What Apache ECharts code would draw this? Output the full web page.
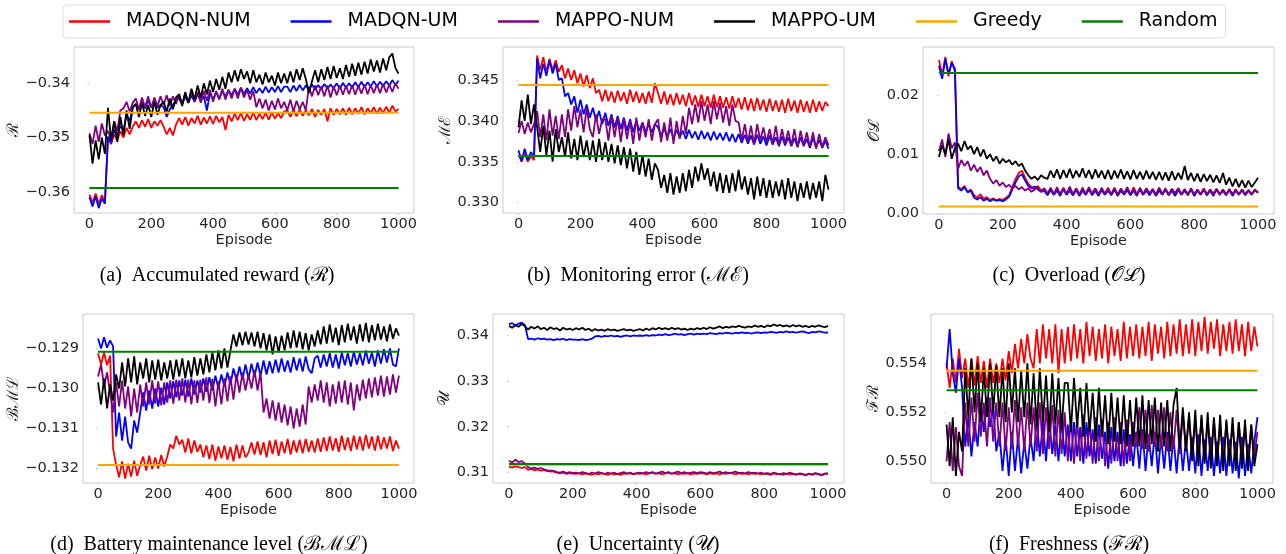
<!DOCTYPE html>
<html><head><meta charset="utf-8">
<script src="https://cdn.jsdelivr.net/npm/echarts@6/dist/echarts.min.js"></script>
<style>html,body{margin:0;padding:0;background:#fff}#c{width:1286px;height:554px}</style>
</head><body><div id="c"></div>
<script>
// ---------- data ----------
const seriesNames = ['MADQN-NUM','MADQN-UM','MAPPO-NUM','MAPPO-UM','Greedy','Random'];
const seriesColors = ['#ff0000','#0000ff','#800080','#000000','#ffa500','#008000'];
const episodeTicks = [0,200,400,600,800,1000];
const lastEpisode = 1000;

// (a) accumulated reward, read every 10 episodes
const aMadqnNum = [-.3605,-.3620,-.3603,-.3622,-.3606,-.3618,
-.3500,-.3512,-.3494,-.3506,-.3488,-.3500,-.3482,-.3494,-.3480,
-.3470,-.3482,-.3468,-.3480,-.3466,-.3482,-.3470,-.3478,-.3468,
-.3480,-.3494,-.3482,-.3496,-.3476,
-.3464,-.3476,-.3462,-.3478,-.3464,-.3474,-.3460,-.3476,-.3463,-.3474,-.3461,-.3475,-.3460,-.3472,-.3462,
-.3486,
-.3458,-.3470,-.3456,-.3468,-.3455,-.3469,-.3457,-.3467,-.3454,-.3468,-.3456,-.3466,-.3454,-.3467,-.3453,-.3465,-.3455,-.3464,-.3452,
-.3450,-.3462,-.3449,-.3461,-.3448,-.3460,-.3450,-.3459,-.3447,-.3462,-.3449,-.3458,-.3447,-.3470,-.3446,-.3458,-.3447,-.3457,-.3446,-.3458,-.3445,-.3457,-.3446,-.3456,-.3444,-.3457,-.3446,-.3455,-.3444,-.3456,-.3445,-.3455,-.3443,-.3454,-.3441,-.3452,-.3447];
const aMadqnUm = [-.3610,-.3627,-.3608,-.3630,-.3612,-.3622,
-.3498,-.3510,-.3486,-.3496,-.3478,-.3488,-.3458,-.3470,-.3444,
-.3438,-.3448,-.3434,-.3446,-.3432,-.3444,-.3434,-.3445,-.3440,
-.3444,-.3462,-.3448,-.3440,-.3430,
-.3428,-.3438,-.3424,-.3436,-.3422,-.3434,-.3420,-.3432,-.3424,-.3450,-.3418,-.3430,-.3416,-.3428,-.3414,
-.3424,
-.3412,-.3422,-.3410,-.3421,-.3408,-.3420,-.3409,-.3419,-.3407,-.3418,-.3409,-.3418,-.3406,-.3417,-.3407,-.3416,-.3405,-.3416,-.3406,
-.3406,-.3416,-.3404,-.3414,-.3403,-.3413,-.3404,-.3412,-.3402,-.3412,-.3403,-.3411,-.3401,-.3410,-.3402,-.3409,-.3400,-.3410,-.3399,-.3408,-.3400,-.3408,-.3398,-.3407,-.3397,-.3407,-.3398,-.3406,-.3396,-.3406,-.3397,-.3405,-.3396,-.3404,-.3394,-.3403,-.3395];
const aMappoNum = [-.3492,-.3512,-.3478,-.3508,-.3474,-.3496,
-.3488,-.3505,-.3470,-.3488,-.3450,-.3446,-.3434,-.3452,-.3436,
-.3428,-.3448,-.3426,-.3444,-.3424,-.3445,-.3426,-.3442,-.3424,
-.3440,-.3422,-.3442,-.3424,-.3438,
-.3420,-.3438,-.3418,-.3436,-.3414,-.3434,-.3416,-.3436,-.3414,-.3432,-.3412,-.3434,-.3414,-.3430,-.3410,
-.3430,
-.3412,-.3428,-.3410,-.3428,-.3408,-.3426,-.3412,-.3430,-.3414,-.3444,-.3428,-.3446,-.3430,-.3450,-.3432,-.3448,-.3428,-.3446,-.3434,
-.3450,-.3430,-.3452,-.3432,-.3448,-.3434,-.3450,-.3406,-.3424,-.3404,-.3422,-.3406,-.3424,-.3404,-.3426,-.3406,-.3422,-.3404,-.3421,-.3405,-.3420,-.3403,-.3421,-.3404,-.3419,-.3402,-.3420,-.3403,-.3418,-.3402,-.3418,-.3401,-.3417,-.3402,-.3416,-.3400,-.3410];
const aMappoUm = [-.3495,-.3548,-.3505,-.3540,-.3500,-.3530,
-.3445,-.3505,-.3470,-.3508,-.3462,-.3496,-.3450,-.3484,-.3445,
-.3438,-.3462,-.3436,-.3460,-.3440,-.3462,-.3434,-.3458,-.3440,
-.3434,-.3452,-.3428,-.3448,-.3426,
-.3420,-.3442,-.3416,-.3436,-.3410,-.3430,-.3404,-.3426,-.3400,-.3420,-.3395,-.3416,-.3392,-.3412,-.3388,
-.3410,
-.3380,-.3398,-.3376,-.3396,-.3374,-.3392,-.3378,-.3400,-.3376,-.3398,-.3384,-.3402,-.3380,-.3398,-.3386,-.3404,-.3380,-.3400,-.3382,
-.3400,-.3378,-.3398,-.3374,-.3394,-.3372,-.3392,-.3418,-.3396,-.3376,-.3398,-.3374,-.3394,-.3370,-.3392,-.3368,-.3390,-.3372,-.3392,-.3366,-.3388,-.3364,-.3386,-.3362,-.3384,-.3360,-.3382,-.3356,-.3378,-.3358,-.3380,-.3354,-.3376,-.3352,-.3345,-.3372,-.3382];

// (b) monitoring error
const bMadqnNum = [.3358,.3351,.3360,.3350,.3357,.3352,
.3480,.3462,.3478,.3460,.3476,.3462,.3474,.3460,
.3468,.3452,.3464,.3450,.3462,.3446,.3458,.3442,.3456,.3440,
.3452,.3434,.3438,.3424,
.3438,.3424,.3436,.3422,.3437,.3424,.3435,.3421,.3438,.3423,.3436,.3422,.3434,.3421,.3436,.3422,
.3446,
.3434,.3421,.3436,.3420,.3433,.3419,.3434,.3420,.3432,.3418,.3434,.3419,.3431,.3417,.3432,.3418,.3430,.3416,.3432,.3417,.3430,.3416,.3429,.3415,.3430,.3416,
.3428,.3414,.3429,.3413,.3427,.3412,.3428,.3413,.3426,.3411,.3427,.3412,.3425,.3411,.3426,.3410,.3427,.3412,.3425,.3410,.3426,.3411,.3424,.3410,.3426,.3411,.3424,.3412,.3423,.3418];
const bMadqnUm = [.3364,.3350,.3366,.3352,.3362,.3356,
.3476,.3452,.3470,.3455,.3474,.3458,.3470,.3450,
.3452,.3430,.3434,.3420,.3430,.3410,.3426,.3408,.3420,.3404,
.3416,.3400,.3412,.3396,
.3410,.3394,.3408,.3392,.3406,.3390,.3404,.3388,.3402,.3386,.3400,.3388,.3398,.3386,.3396,.3386,
.3396,
.3392,.3382,.3391,.3380,.3390,.3379,.3389,.3380,.3388,.3378,.3389,.3379,.3387,.3377,.3388,.3378,.3386,.3376,.3387,.3377,.3385,.3376,.3386,.3375,.3384,.3374,
.3384,.3373,.3383,.3372,.3382,.3371,.3383,.3372,.3381,.3370,.3382,.3371,.3380,.3369,.3381,.3370,.3380,.3369,.3379,.3368,.3380,.3369,.3378,.3367,.3379,.3368,.3377,.3367,.3376,.3366];
const bMappoNum = [.3385,.3400,.3384,.3398,.3386,.3396,
.3412,.3380,.3408,.3376,.3414,.3382,.3406,.3378,
.3408,.3380,.3414,.3388,.3418,.3392,.3414,.3386,.3416,.3390,
.3380,.3408,.3384,.3402,
.3402,.3376,.3406,.3380,.3404,.3374,.3402,.3378,.3400,.3372,.3404,.3376,.3398,.3380,.3402,.3376,
.3396,
.3402,.3374,.3398,.3376,.3404,.3372,.3400,.3378,.3406,.3384,.3416,.3396,.3420,.3398,.3424,.3400,.3420,.3396,.3424,.3402,.3422,.3398,.3418,.3394,.3420,.3400,
.3398,.3376,.3396,.3374,.3394,.3372,.3396,.3376,.3392,.3374,.3390,.3372,.3394,.3370,.3390,.3372,.3388,.3370,.3390,.3368,.3388,.3370,.3386,.3368,.3386,.3366,.3384,.3368,.3380,.3370];
const bMappoUm = [.3392,.3425,.3400,.3432,.3396,.3420,
.3392,.3362,.3394,.3358,.3388,.3350,.3390,.3362,
.3380,.3356,.3386,.3354,.3378,.3352,.3382,.3356,.3376,.3352,
.3376,.3350,.3378,.3352,
.3374,.3350,.3372,.3348,.3370,.3346,.3368,.3342,.3366,.3338,.3362,.3334,.3358,.3332,.3354,.3328,
.3348,
.3340,.3318,.3334,.3312,.3336,.3310,.3332,.3312,.3336,.3314,.3340,.3318,.3344,.3326,.3348,.3328,.3342,.3320,.3338,.3314,.3336,.3312,.3334,.3312,.3336,.3314,
.3340,.3316,.3332,.3310,.3330,.3304,.3332,.3308,.3330,.3306,.3328,.3306,.3326,.3308,.3328,.3304,.3330,.3306,.3326,.3302,.3324,.3306,.3326,.3304,.3324,.3306,.3326,.3302,.3334,.3316];

// (c) overload
const cMadqnNum = [.0260,.0235,.0265,.0232,.0258,.0240,
.0045,.0040,.0046,.0036,.0040,
.0030,.0026,.0032,.0024,.0027,.0022,.0025,.0021,.0024,.0022,.0026,
.0030,.0045,.0058,.0068,.0072,
.0060,.0050,.0044,.0040,.0046,.0038,.0042,
.0032,.0041,.0031,.0040,.0033,.0043,.0031,.0040,.0030,.0042,
.0032,.0040,.0031,.0041,.0033,.0042,.0031,.0040,.0032,.0043,
.0031,.0041,.0030,.0040,.0032,.0042,.0031,.0044,.0032,.0040,
.0031,.0041,.0033,.0040,.0031,.0042,.0032,.0040,.0031,.0041,
.0033,.0042,.0031,.0040,.0032,.0041,.0030,.0040,.0032,.0042,
.0031,.0040,.0033,.0041,.0031,.0040,.0032,.0039,.0031,.0041,
.0032,.0040,.0031,.0039,.0032,.0040,.0035];
const cMadqnUm = [.0250,.0228,.0262,.0236,.0255,.0245,
.0042,.0038,.0044,.0035,.0038,
.0026,.0023,.0027,.0021,.0024,.0020,.0023,.0021,.0022,.0020,.0023,
.0028,.0040,.0052,.0062,.0066,
.0055,.0046,.0042,.0045,.0040,.0036,.0038,
.0030,.0039,.0031,.0038,.0029,.0040,.0031,.0038,.0030,.0039,
.0029,.0038,.0031,.0040,.0030,.0038,.0029,.0039,.0031,.0038,
.0030,.0040,.0029,.0038,.0031,.0039,.0030,.0038,.0029,.0040,
.0031,.0038,.0030,.0039,.0029,.0038,.0031,.0040,.0030,.0038,
.0029,.0039,.0031,.0038,.0030,.0040,.0029,.0038,.0031,.0039,
.0030,.0038,.0029,.0040,.0031,.0038,.0030,.0039,.0029,.0038,
.0031,.0039,.0030,.0038,.0031,.0039,.0035];
const cMappoNum = [.0105,.0125,.0095,.0135,.0110,.0120,
.0075,.0090,.0080,.0088,.0072,
.0082,.0070,.0078,.0064,.0072,.0058,.0050,.0056,.0046,.0052,.0044,
.0048,.0042,.0046,.0040,.0044,
.0038,.0042,.0036,.0040,.0044,.0037,.0041,
.0033,.0043,.0032,.0044,.0031,.0042,.0033,.0045,.0032,.0042,
.0031,.0043,.0033,.0044,.0032,.0042,.0031,.0043,.0033,.0041,
.0032,.0043,.0031,.0042,.0033,.0044,.0032,.0041,.0031,.0043,
.0032,.0042,.0033,.0041,.0031,.0043,.0032,.0042,.0031,.0041,
.0033,.0042,.0032,.0041,.0031,.0042,.0032,.0040,.0031,.0041,
.0032,.0040,.0031,.0041,.0032,.0040,.0031,.0041,.0032,.0039,
.0031,.0040,.0032,.0039,.0031,.0039,.0034];
const cMappoUm = [.0095,.0115,.0100,.0125,.0092,.0110,
.0118,.0105,.0122,.0108,.0114,
.0100,.0112,.0096,.0108,.0092,.0100,.0088,.0096,.0084,.0092,.0086,
.0090,.0082,.0088,.0080,.0084,
.0072,.0064,.0058,.0062,.0056,.0064,.0060,
.0058,.0072,.0060,.0074,.0058,.0073,.0060,.0075,.0059,.0072,.0061,.0076,.0060,.0073,.0058,.0074,.0060,.0072,.0058,.0073,.0057,.0072,.0059,.0074,.0058,.0071,.0057,.0073,.0058,.0070,.0057,.0072,.0058,.0070,.0056,
.0070,.0056,.0069,.0055,.0071,.0056,.0068,.0057,.0080,.0056,.0068,.0054,.0067,.0053,.0066,.0054,.0065,.0052,.0064,.0051,
.0068,.0048,.0060,.0045,.0058,.0044,.0056,.0043,.0055,.0044,.0052,.0060];

// (d) battery maintenance level
const dMadqnNum = [-.12912,-.12940,-.12910,-.12942,-.12918,
-.13150,
-.13190,-.13222,-.13182,-.13225,-.13188,-.13220,-.13180,-.13218,-.13192,
-.13170,-.13205,-.13168,-.13202,-.13172,-.13200,-.13166,-.13195,
-.13170,-.13140,-.13150,-.13118,-.13140,
-.13128,-.13160,-.13125,-.13162,-.13130,-.13158,
-.13140,-.13172,-.13142,-.13176,-.13140,-.13180,-.13145,-.13174,-.13142,-.13178,-.13146,-.13182,-.13140,-.13175,-.13142,-.13172,-.13160,
-.13135,-.13165,-.13132,-.13166,-.13134,-.13172,-.13130,-.13164,-.13128,-.13168,-.13132,-.13162,-.13126,-.13165,-.13130,-.13160,-.13128,-.13162,-.13126,-.13158,-.13130,-.13160,
-.13125,-.13158,-.13122,-.13156,-.13120,-.13155,-.13124,-.13158,-.13118,-.13154,-.13122,-.13156,-.13118,-.13152,-.13120,-.13155,-.13116,-.13150,-.13120,-.13155,-.13118,-.13152,-.13122,-.13150,-.13120,-.13156,-.13130,-.13150];
const dMadqnUm = [-.12875,-.12900,-.12872,-.12898,-.12880,
-.12895,
-.13120,-.13060,-.13130,-.13070,-.13135,-.13150,-.13080,-.13110,-.13060,
-.13010,-.13055,-.13005,-.13050,-.13000,-.13045,-.12998,-.13040,
-.12985,-.13025,-.12982,-.13022,-.12980,
-.13018,-.12978,-.13020,-.12975,-.13015,-.12980,
-.13010,-.12975,-.13008,-.12972,-.13005,-.12968,-.13000,-.12965,-.12995,-.12960,-.12990,-.12950,-.12980,-.12945,-.12978,-.12940,-.12975,
-.12938,-.12970,-.12935,-.12968,-.12930,-.12965,-.12932,-.12962,-.12928,-.12960,-.12925,-.12958,-.12930,-.12960,-.12922,-.12955,-.12925,-.12958,-.12920,-.12952,-.12962,-.12925,
-.12918,-.12948,-.12915,-.12945,-.12912,-.12948,-.12915,-.12950,-.12910,-.12942,-.12912,-.12945,-.12908,-.12940,-.12912,-.12942,-.12905,-.12938,-.12910,-.12945,-.12905,-.12938,-.12902,-.12935,-.12900,-.12940,-.12945,-.12900];
const dMappoNum = [-.12970,-.12940,-.12995,-.12960,-.13010,
-.13060,
-.12985,-.13045,-.12980,-.13050,-.12995,-.13070,-.13000,-.13060,-.12990,
-.13045,-.12985,-.13040,-.12980,-.13038,-.12982,-.13042,-.12985,
-.13035,-.12980,-.13038,-.12978,-.13030,
-.12975,-.13035,-.12978,-.13040,-.12980,-.13036,
-.12978,-.13030,-.12972,-.13036,-.12976,-.13045,-.12982,-.13040,-.12975,-.13032,-.12970,-.13028,-.12965,-.13010,-.12960,-.13005,-.12965,
-.13000,-.12955,-.13005,-.12960,-.13060,-.13025,-.13075,-.13030,-.13080,-.13035,-.13085,-.13040,-.13092,-.13045,-.13100,-.13050,-.13095,-.13040,-.13090,-.12995,-.13035,-.12990,
-.13030,-.12980,-.13035,-.12985,-.13045,-.12990,-.13038,-.12982,-.13035,-.12980,-.13040,-.12985,-.13055,-.12990,-.13030,-.12978,-.13025,-.12975,-.13022,-.12972,-.13018,-.12968,-.13020,-.12970,-.13015,-.12965,-.13010,-.12968];
const dMappoUm = [-.12985,-.13040,-.12975,-.13050,-.12990,
-.13030,
-.12965,-.13000,-.12935,-.12995,-.12925,-.12985,-.12920,-.12990,-.12935,
-.12975,-.12925,-.12985,-.12930,-.12978,-.12928,-.12980,-.12935,
-.12975,-.12930,-.12978,-.12928,-.12970,
-.12925,-.12975,-.12930,-.12972,-.12922,-.12968,
-.12925,-.12965,-.12915,-.12960,-.12910,-.12955,-.12905,-.12950,-.12900,-.12948,-.12905,-.12865,-.12895,-.12860,-.12892,-.12858,-.12890,
-.12860,-.12895,-.12858,-.12900,-.12862,-.12905,-.12865,-.12915,-.12870,-.12910,-.12868,-.12905,-.12860,-.12900,-.12855,-.12898,-.12858,-.12902,-.12862,-.12905,-.12865,-.12895,
-.12855,-.12890,-.12845,-.12888,-.12840,-.12885,-.12848,-.12892,-.12842,-.12885,-.12838,-.12880,-.12845,-.12888,-.12840,-.12882,-.12836,-.12885,-.12842,-.12880,-.12838,-.12878,-.12845,-.12882,-.12840,-.12876,-.12850,-.12868];

// (e) uncertainty
const eMadqnNum = [.3113,.3111,.3114,.3112,.3110,.3112,
.3106,.3108,.3105,.3107,.3104,.3106,.3103,.3105,.3102,.3100,.3098,.3100,.3097,.3099,.3098,
.3097,.3099,.3096,.3098,.3097,.3095,.3098,.3096,.3099,.3097,.3095,.3098,.3096,.3097,.3095,.3098,.3097,.3099,.3096,.3098,
.3097,.3099,.3096,.3098,.3100,.3097,.3099,.3096,.3098,.3100,.3097,.3099,.3096,.3098,.3097,.3099,.3096,.3098,.3097,.3099,
.3098,.3096,.3099,.3097,.3098,.3096,.3099,.3097,.3100,.3098,.3096,.3099,.3097,.3098,.3096,.3099,.3097,.3098,.3096,.3098,
.3097,.3095,.3098,.3096,.3097,.3095,.3098,.3096,.3097,.3095,.3097,.3096,.3094,.3097,.3095,.3098,.3096,.3094,.3097,.3099];
const eMadqnUm = [.3424,.3426,.3421,.3425,.3427,.3422,
.3391,.3392,.3390,.3393,.3391,.3392,.3390,.3391,.3389,.3391,.3390,.3392,.3389,.3391,.3390,
.3390,.3389,.3391,.3389,.3390,.3392,.3397,.3398,.3396,.3398,.3397,.3399,.3397,.3398,.3396,.3398,.3399,.3397,.3399,.3398,
.3399,.3398,.3400,.3398,.3400,.3399,.3401,.3400,.3402,.3400,.3401,.3403,.3401,.3402,.3400,.3402,.3403,.3401,.3403,.3402,
.3403,.3402,.3404,.3403,.3402,.3404,.3403,.3405,.3404,.3403,.3405,.3404,.3406,.3404,.3405,.3403,.3405,.3406,.3404,.3406,
.3405,.3407,.3406,.3405,.3407,.3406,.3408,.3406,.3407,.3405,.3407,.3408,.3406,.3404,.3407,.3406,.3408,.3407,.3405,.3406];
const eMappoNum = [.3126,.3122,.3128,.3123,.3125,.3120,
.3112,.3109,.3111,.3108,.3110,.3107,.3105,.3102,.3104,.3101,.3100,.3102,.3099,.3101,.3099,
.3100,.3098,.3101,.3099,.3097,.3100,.3098,.3101,.3099,.3097,.3100,.3098,.3100,.3097,.3099,.3101,.3098,.3100,.3097,.3099,
.3100,.3098,.3101,.3099,.3101,.3098,.3100,.3102,.3099,.3101,.3098,.3100,.3102,.3099,.3101,.3098,.3100,.3101,.3099,.3101,
.3100,.3098,.3101,.3099,.3100,.3102,.3099,.3101,.3098,.3100,.3102,.3099,.3100,.3098,.3101,.3099,.3100,.3098,.3100,.3097,
.3099,.3097,.3100,.3098,.3096,.3099,.3097,.3100,.3098,.3096,.3098,.3097,.3095,.3098,.3096,.3099,.3097,.3095,.3098,.3097];
const eMappoUm = [.3420,.3416,.3422,.3418,.3424,.3419,
.3412,.3418,.3414,.3419,.3413,.3416,.3411,.3417,.3413,.3415,.3410,.3416,.3412,.3414,.3411,
.3415,.3412,.3416,.3411,.3414,.3409,.3413,.3410,.3412,.3409,.3413,.3410,.3412,.3409,.3411,.3413,.3410,.3412,.3409,.3411,
.3413,.3410,.3414,.3411,.3415,.3412,.3416,.3413,.3415,.3412,.3416,.3413,.3415,.3412,.3414,.3411,.3414,.3412,.3415,.3413,
.3416,.3413,.3417,.3414,.3416,.3419,.3415,.3418,.3416,.3419,.3417,.3420,.3418,.3416,.3419,.3417,.3421,.3418,.3420,.3417,
.3421,.3419,.3423,.3420,.3422,.3419,.3421,.3418,.3422,.3419,.3421,.3418,.3420,.3417,.3420,.3418,.3421,.3419,.3417,.3420];

// (f) freshness
const fMadqnNum = [.5540,.5530,.5542,.5532,.5546,.5534,
.5542,.5530,.5542,.5531,.5543,.5532,.5541,.5530,.5542,.5532,.5540,
.5532,.5542,.5533,.5545,.5536,.5548,.5538,.5550,.5540,.5552,.5542,
.5538,.5554,.5540,.5556,.5542,.5554,.5540,.5556,.5536,.5554,.5540,
.5555,.5541,.5556,.5542,.5554,.5540,.5557,.5543,.5555,.5541,.5554,.5542,.5556,.5540,.5555,.5543,.5554,.5541,.5557,.5542,.5555,.5543,
.5556,.5542,.5555,.5543,.5557,.5541,.5556,.5544,.5555,.5542,.5557,.5543,.5556,.5544,.5558,.5543,.5556,
.5544,.5558,.5543,.5557,.5545,.5559,.5544,.5557,.5546,.5558,.5543,.5556,.5545,.5557,.5544,.5558,.5545,.5556,.5543,.5557,.5545,.5555,.5547];
const fMadqnUm = [.5538,.5554,.5536,.5528,.5542,.5530,
.5506,.5518,.5502,.5516,.5506,.5524,.5512,.5526,.5514,.5522,.5504,
.5512,.5496,.5510,.5494,.5512,.5496,.5510,.5495,.5508,.5497,.5510,
.5500,.5518,.5502,.5516,.5500,.5518,.5503,.5515,.5500,.5517,.5502,
.5515,.5500,.5516,.5502,.5514,.5499,.5516,.5502,.5513,.5499,.5515,.5501,.5512,.5497,.5514,.5500,.5512,.5498,.5513,.5499,.5511,.5498,
.5512,.5497,.5513,.5496,.5511,.5498,.5512,.5495,.5510,.5497,.5512,.5496,.5510,.5495,.5511,.5496,.5509,
.5496,.5510,.5495,.5511,.5494,.5509,.5496,.5510,.5494,.5508,.5495,.5510,.5494,.5509,.5495,.5508,.5493,.5510,.5494,.5507,.5495,.5508,.5518];
const fMappoNum = [.5500,.5516,.5496,.5514,.5498,.5494,
.5524,.5506,.5526,.5508,.5528,.5510,.5524,.5506,.5526,.5508,.5524,
.5506,.5524,.5504,.5522,.5505,.5525,.5506,.5522,.5504,.5524,.5506,
.5522,.5504,.5524,.5503,.5522,.5505,.5523,.5502,.5521,.5503,.5520,
.5500,.5518,.5499,.5517,.5500,.5519,.5501,.5516,.5499,.5518,.5500,.5517,.5498,.5516,.5499,.5518,.5500,.5516,.5498,.5517,.5500,.5516,
.5506,.5522,.5505,.5521,.5504,.5523,.5506,.5521,.5505,.5522,.5504,.5520,.5505,.5521,.5503,.5519,.5505,
.5518,.5502,.5517,.5501,.5518,.5500,.5516,.5502,.5517,.5501,.5515,.5500,.5516,.5502,.5515,.5500,.5516,.5501,.5514,.5500,.5515,.5502,.5512];
const fMappoUm = [.5515,.5498,.5518,.5494,.5512,.5504,
.5538,.5518,.5542,.5520,.5540,.5516,.5538,.5518,.5540,.5520,.5539,
.5518,.5538,.5516,.5540,.5520,.5538,.5516,.5537,.5518,.5540,.5515,
.5536,.5514,.5538,.5516,.5535,.5512,.5536,.5515,.5534,.5513,.5532,
.5532,.5512,.5534,.5514,.5530,.5510,.5532,.5512,.5528,.5508,.5530,.5510,.5527,.5507,.5528,.5508,.5526,.5507,.5527,.5506,.5525,.5506,
.5526,.5506,.5527,.5505,.5525,.5507,.5526,.5504,.5524,.5506,.5525,.5504,.5523,.5530,.5505,.5522,.5504,
.5520,.5500,.5521,.5498,.5519,.5499,.5520,.5497,.5518,.5498,.5519,.5496,.5517,.5498,.5518,.5496,.5516,.5497,.5517,.5496,.5515,.5498,.5507];

// constant baselines per panel (a..f)
const greedyLevels = [-.3454, .3444, .0011, -.13191, .3117, .5537];
const randomLevels = [-.3593, .3357, .0238, -.12908, .3119, .5529];

// y tick labels per panel
const aTicks = [-0.36,-0.35,-0.34];
const bTicks = [0.330,0.335,0.340,0.345];
const cTicks = [0.00,0.01,0.02];
const dTicks = [-0.132,-0.131,-0.130,-0.129];
const eTicks = [0.31,0.32,0.33,0.34];
const fTicks = [0.550,0.552,0.554];
const tickDecimals = [2,3,2,3,2,3];

const axisNames = ['ℛ','ℳℰ','𝒪ℒ','ℬℳℒ','𝒰','ℱℛ'];
const captions = ['(a)  Accumulated reward (ℛ)','(b)  Monitoring error (ℳℰ)','(c)  Overload (𝒪ℒ)',
  '(d)  Battery maintenance level (ℬℳℒ)','(e)  Uncertainty (𝒰)','(f)  Freshness (ℱℛ)'];

// ---------- layout ----------
const panelData = [
  [aMadqnNum,aMadqnUm,aMappoNum,aMappoUm],
  [bMadqnNum,bMadqnUm,bMappoNum,bMappoUm],
  [cMadqnNum,cMadqnUm,cMappoNum,cMappoUm],
  [dMadqnNum,dMadqnUm,dMappoNum,dMappoUm],
  [eMadqnNum,eMadqnUm,eMappoNum,eMappoUm],
  [fMadqnNum,fMadqnUm,fMappoNum,fMappoUm]
];
const panelTicks = [aTicks,bTicks,cTicks,dTicks,eTicks,fTicks];
const layout = [
  {left:74, top:47, width:340, height:166, ymin:-0.3639, ymax:-0.3333, nameGap:44, cx:217, cy:276},
  {left:503, top:47, width:341, height:166, ymin:0.32874, ymax:0.34903, nameGap:47, cx:638, cy:276},
  {left:923, top:47, width:351, height:167, ymin:-0.00017, ymax:0.0282, nameGap:38, cx:1069, cy:276},
  {left:83, top:314, width:331, height:169, ymin:-0.13236, ymax:-0.12814, nameGap:53, cx:209, cy:545},
  {left:493, top:314, width:351, height:169, ymin:0.30773, ymax:0.34459, nameGap:40, cx:638, cy:545},
  {left:931, top:314, width:342, height:169, ymin:0.54911, ymax:0.55602, nameGap:46, cx:1069, cy:545}
];

const fmt = (v, d) => (v < 0 ? '\u2212' : '') + Math.abs(v).toFixed(d);
const tickFont = {fontFamily:'DejaVu Sans', fontSize:14.5, color:'#262626'};

const grids = [], xAxes = [], yAxes = [], series = [], graphics = [];
layout.forEach((L, p) => {
  grids.push({left:L.left, top:L.top, width:L.width, height:L.height, show:true,
    borderColor:'#cccccc', borderWidth:1, backgroundColor:'transparent', containLabel:false});
  xAxes.push({type:'value', gridIndex:p, min:-50, max:1050,
    name:'Episode', nameLocation:'middle', nameGap:19,
    nameTextStyle:{fontFamily:'DejaVu Sans', fontSize:14.5, color:'#262626'},
    axisLine:{show:false}, splitLine:{show:false},
    axisTick:{show:true, length:2, lineStyle:{color:'#cccccc'}, customValues:episodeTicks},
    axisLabel:Object.assign({margin:4, customValues:episodeTicks, formatter:v=>String(Math.round(v))}, tickFont)});
  const d = tickDecimals[p];
  yAxes.push({type:'value', gridIndex:p, min:L.ymin, max:L.ymax,
    name:axisNames[p], nameLocation:'middle', nameGap:L.nameGap, nameRotate:90,
    nameTextStyle:{fontFamily:'DejaVu Serif', fontSize:16, color:'#262626'},
    axisLine:{show:false}, splitLine:{show:false},
    axisTick:{show:true, length:2, lineStyle:{color:'#cccccc'}, customValues:panelTicks[p]},
    axisLabel:Object.assign({margin:4, customValues:panelTicks[p], formatter:v=>fmt(v,d)}, tickFont)});
  panelData[p].forEach((arr, s) => {
    const n = arr.length;
    series.push({type:'line', name:seriesNames[s], xAxisIndex:p, yAxisIndex:p,
      data:arr.map((v,i)=>[i*lastEpisode/(n-1), v]),
      showSymbol:false, symbol:'none', lineStyle:{width:1.8, color:seriesColors[s]},
      itemStyle:{color:seriesColors[s]}, animation:false, silent:true});
  });
  [greedyLevels[p], randomLevels[p]].forEach((v, k) => {
    const s = 4 + k;
    series.push({type:'line', name:seriesNames[s], xAxisIndex:p, yAxisIndex:p,
      data:[[0, v],[lastEpisode, v]],
      showSymbol:false, symbol:'none', lineStyle:{width:2, color:seriesColors[s]},
      itemStyle:{color:seriesColors[s]}, animation:false, silent:true});
  });
  graphics.push({type:'text', x:L.cx, y:L.cy,
    style:{text:captions[p], fontFamily:'Liberation Serif', fontSize:20, fill:'#000',
      align:'center', verticalAlign:'middle', textAlign:'center', textVerticalAlign:'middle'}});
});

const chart = echarts.init(document.getElementById('c'), null, {renderer:'canvas'});
chart.setOption({
  animation:false,
  backgroundColor:'#ffffff',
  legend:{data:seriesNames, left:63, top:5, icon:'rect', itemWidth:41, itemHeight:2.5, itemGap:40,
    padding:[7,8,7,6], borderColor:'#dddddd', borderWidth:1, borderRadius:4,
    textStyle:{fontFamily:'DejaVu Sans', fontSize:19, color:'#000', padding:[0,0,0,11]},
    selectedMode:false},
  grid:grids, xAxis:xAxes, yAxis:yAxes, series:series, graphic:graphics
});
</script></body></html>
